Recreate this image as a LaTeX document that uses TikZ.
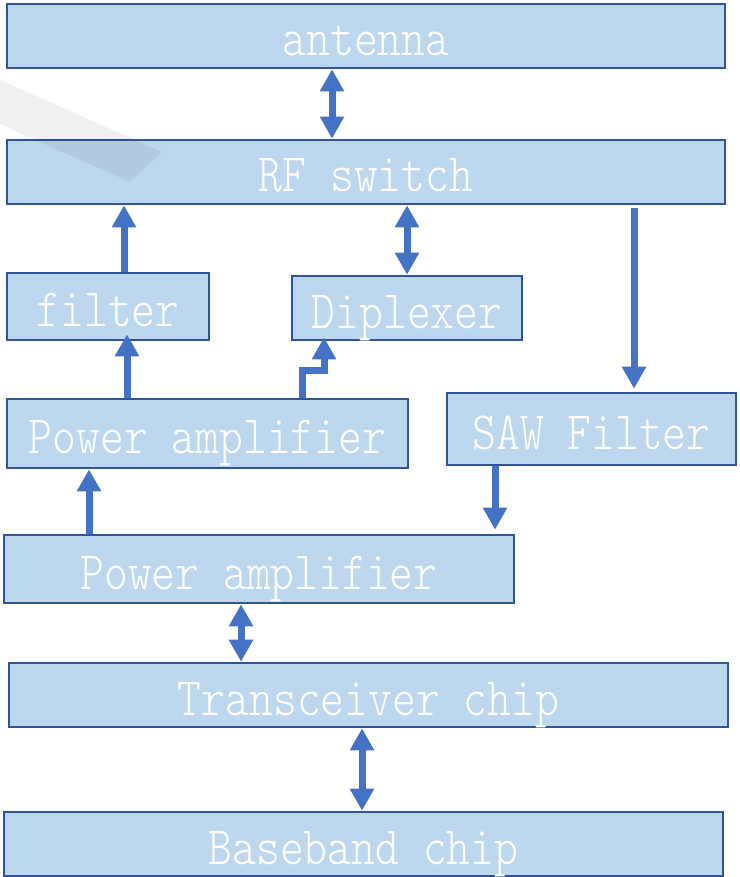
\documentclass[tikz,border=0pt]{standalone}
\usepackage{fontspec}
\newfontfamily\labfont{lmmonolt10-regular.otf}[FakeStretch=0.84]
\usetikzlibrary{arrows.meta}
\definecolor{boxfill}{HTML}{BDD7EE}
\definecolor{boxline}{HTML}{2F5597}
\definecolor{arrowblue}{HTML}{4472C4}
\begin{document}
\begin{tikzpicture}[x=1pt,y=-1pt,
  blockbox/.style={draw=boxline, line width=2.6pt, fill=boxfill, rectangle, inner sep=0pt,
    text=white, font=\labfont\fontsize{54}{54}\selectfont, text height=40pt, text depth=0pt},
  link/.style={draw=arrowblue, line width=7pt, line join=miter,
    -{Triangle[width=23pt,length=22pt]}},
  dlink/.style={draw=arrowblue, line width=7pt,
    {Triangle[width=23pt,length=22pt]}-{Triangle[width=23pt,length=22pt]}},
  wmark/.style={fill=black, opacity=0.06}
]
\useasboundingbox (0,0) rectangle (739,877);
\fill[white] (0,0) rectangle (739,877);

\node[blockbox, minimum width=718pt, minimum height=64pt] (ant) at (366,36) {antenna};
\node[blockbox, minimum width=718pt, minimum height=64pt] (rf) at (366,172) {RF switch};
\node[blockbox, minimum width=202pt, minimum height=67pt] (flt) at (108,306.5) {filter};
\node[blockbox, minimum width=230pt, minimum height=64pt] (dip) at (407,308) {Diplexer};
\node[blockbox, minimum width=401pt, minimum height=69pt] (pa1) at (207.5,433.5) {Power amplifier};
\node[blockbox, minimum width=289pt, minimum height=72pt] (saw) at (591.5,429) {SAW Filter};
\node[blockbox, minimum width=510pt, minimum height=68pt] (pa2) at (259,569) {Power amplifier};
\node[blockbox, minimum width=719pt, minimum height=64pt] (trx) at (368.5,695) {Transceiver chip};
\node[blockbox, minimum width=719pt, minimum height=64pt] (bb) at (363.5,844) {Baseband chip};

% connectors
\draw[dlink] (332,0 |- ant.south) -- (332,0 |- rf.north);
\draw[link] (124,0 |- flt.north) -- (124,0 |- rf.south);
\draw[dlink] (407,0 |- rf.south) -- (407,0 |- dip.north);
\draw[link, shorten <=3pt, shorten >=3pt] (634,0 |- rf.south) -- (634,0 |- saw.north);
\draw[link, shorten >=-7pt] (127,0 |- pa1.north) -- (127,0 |- flt.south);
\draw[link, shorten >=-4pt] (302,0 |- pa1.north) -- (302,370) -- (324,370) -- (324,0 |- dip.south);
\draw[link, shorten >=4pt] (495,0 |- saw.south) -- (495,0 |- pa2.north);
\draw[link] (89,0 |- pa2.north) -- (89,0 |- pa1.south);
\draw[dlink] (241,0 |- pa2.south) -- (241,0 |- trx.north);
\draw[dlink] (362,0 |- trx.south) -- (362,0 |- bb.north);

% faint watermark
\fill[wmark] (0,80) -- (162,152) -- (130,182) -- (40,142) -- (0,124) -- cycle;
\end{tikzpicture}
\end{document}
